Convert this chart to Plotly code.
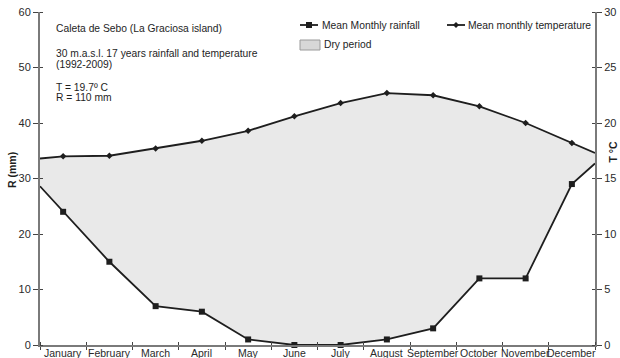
import plotly.graph_objects as go

# Monthly climate data, Caleta de Sebo
months = ["January", "February", "March", "April", "May", "June",
          "July", "August", "September", "October", "November", "December"]
rain = [24, 15, 7, 6, 1, 0, 0, 1, 3, 12, 12, 29]                  # mm
temp = [17.0, 17.05, 17.7, 18.4, 19.3, 20.6, 21.8, 22.7, 22.5, 21.5, 20.0, 18.2]  # °C
# curve values where the lines meet the left / right frame
rain_ends = [28.6, 32.7]
temp_ends = [16.8, 17.3]

left_ticks = [0, 10, 20, 30, 40, 50, 60]
right_ticks = [0, 5, 10, 15, 20, 25, 30]

FONT = "Liberation Sans, Arial, sans-serif"
INK = "#1e1e1e"
AXIS = "#7a7a7a"
TICK = "#444"
FILL = "rgb(233,233,233)"
TXT = 10.3

W, H = 620, 358
ML, MR, MT, MB = 40, 25, 12, 13
PW, PH = W - ML - MR, H - MT - MB

n = len(months)
xc = list(range(n))
xe = [-0.5] + xc + [n - 0.5]
rain_full = [rain_ends[0]] + rain + [rain_ends[1]]
temp_full = [temp_ends[0]] + temp + [temp_ends[1]]
# Gaussen convention: 1 °C corresponds to 2 mm
temp_mm = [2 * t for t in temp_full]

fig = go.Figure()

# dry period: area between the temperature and rainfall curves
fig.add_trace(go.Scatter(
    x=xe + xe[::-1], y=rain_full + temp_mm[::-1],
    fill="toself", fillcolor=FILL, line=dict(width=0),
    mode="lines", hoverinfo="skip", showlegend=False))

fig.add_trace(go.Scatter(
    x=xe, y=rain_full, mode="lines",
    line=dict(color=INK, width=1.8), showlegend=False))
fig.add_trace(go.Scatter(
    x=xc, y=rain, mode="markers", cliponaxis=False,
    marker=dict(symbol="square", size=6, color=INK), showlegend=False))

fig.add_trace(go.Scatter(
    x=xe, y=temp_full, mode="lines", yaxis="y2",
    line=dict(color=INK, width=1.8), showlegend=False))
fig.add_trace(go.Scatter(
    x=xc, y=temp, mode="markers", yaxis="y2", cliponaxis=False,
    marker=dict(symbol="diamond", size=5, color=INK), showlegend=False))

tickfont = dict(family=FONT, size=11, color="#2a2a2a")

def yaxis_style(vals):
    return dict(
        tickmode="array", tickvals=vals, automargin=False,
        ticks="outside", ticklen=5, tickwidth=1.3, tickcolor=TICK,
        minor=dict(tickmode="array", tickvals=vals, ticks="inside",
                   ticklen=3, tickwidth=1.3, tickcolor=TICK, showgrid=False),
        showgrid=False, zeroline=False,
        showline=True, linecolor=AXIS, linewidth=2,
        tickfont=tickfont, fixedrange=True)

fig.update_layout(
    width=W, height=H,
    margin=dict(l=ML, r=MR, t=MT, b=MB, autoexpand=False),
    paper_bgcolor="white", plot_bgcolor="white",
    font=dict(family=FONT, color=INK),
    xaxis=dict(
        range=[-0.5, n - 0.5], tickmode="array", tickvals=[i - 0.5 for i in range(n + 1)],
        showticklabels=False, automargin=False,
        ticks="outside", ticklen=3, tickwidth=1.3, tickcolor=TICK,
        minor=dict(tickmode="array", tickvals=[i - 0.5 for i in range(n + 1)],
                   ticks="inside", ticklen=3, tickwidth=1.3, tickcolor=TICK,
                   showgrid=False),
        showgrid=False, zeroline=False,
        showline=True, linecolor=AXIS, linewidth=2,
        fixedrange=True),
    yaxis=dict(range=[0, 60], **yaxis_style(left_ticks)),
    yaxis2=dict(range=[0, 30], overlaying="y", side="right", **yaxis_style(right_ticks)),
    showlegend=False,
)

# pixel position -> paper coordinates (paper spans the plotting area)
def px_x(p):
    return (p - ML) / PW

def px_y(p):
    return (H - MB - p) / PH

ann = []

def text(x, y, s, size=TXT, xanchor="left", angle=0, bold=False):
    ann.append(dict(
        xref="paper", yref="paper", x=px_x(x), y=px_y(y),
        text=f"<b>{s}</b>" if bold else s,
        showarrow=False, xanchor=xanchor, yanchor="middle", textangle=angle,
        font=dict(family=FONT, size=size, color=INK)))

# month names centred in each month's band, just under the axis
for i, m in enumerate(months):
    ann.append(dict(
        xref="x", yref="paper", x=i, y=px_y(352.5), text=m,
        showarrow=False, xanchor="center", yanchor="middle",
        font=dict(family=FONT, size=10.5, color="#2a2a2a")))

# station description
t_mean = sum(temp) / len(temp)
r_total = sum(rain)
text(54, 28, "Caleta de Sebo (La Graciosa island)")
text(54, 53, "30 m.a.s.l. 17 years rainfall and temperature")
text(54, 64, "(1992-2009)")
text(54, 87, f"T = {t_mean:.1f}º C")
text(54, 97.5, f"R = {r_total:.0f} mm")

# axis titles
text(12, 170, "R (mm)", size=10.5, xanchor="center", angle=-90, bold=True)
text(612.5, 152, "T °C", size=10.5, xanchor="center", angle=-90, bold=True)

# legend
text(319.5, 25, "Mean Monthly rainfall")
text(466, 25, "Mean monthly temperature")
text(322, 45, "Dry period")

shapes = []

def line_px(x0, y0, x1, y1, w=1.8):
    shapes.append(dict(type="line", xref="paper", yref="paper",
                       x0=px_x(x0), y0=px_y(y0), x1=px_x(x1), y1=px_y(y1),
                       line=dict(color=INK, width=w)))

line_px(300, 25, 318, 25)
shapes.append(dict(type="rect", xref="paper", yref="paper",
                   x0=px_x(306), x1=px_x(312), y0=px_y(22), y1=px_y(28),
                   fillcolor=INK, line=dict(width=0)))
line_px(447, 25, 465, 25)
shapes.append(dict(type="path", xref="paper", yref="paper",
                   path=f"M {px_x(456)} {px_y(22)} L {px_x(459)} {px_y(25)} "
                        f"L {px_x(456)} {px_y(28)} L {px_x(453)} {px_y(25)} Z",
                   fillcolor=INK, line=dict(width=0)))
shapes.append(dict(type="rect", xref="paper", yref="paper",
                   x0=px_x(300), x1=px_x(320), y0=px_y(50), y1=px_y(40),
                   fillcolor="rgb(215,215,215)", line=dict(color="#9a9a9a", width=1)))

fig.update_layout(annotations=ann, shapes=shapes)

fig.write_html("out.html")
